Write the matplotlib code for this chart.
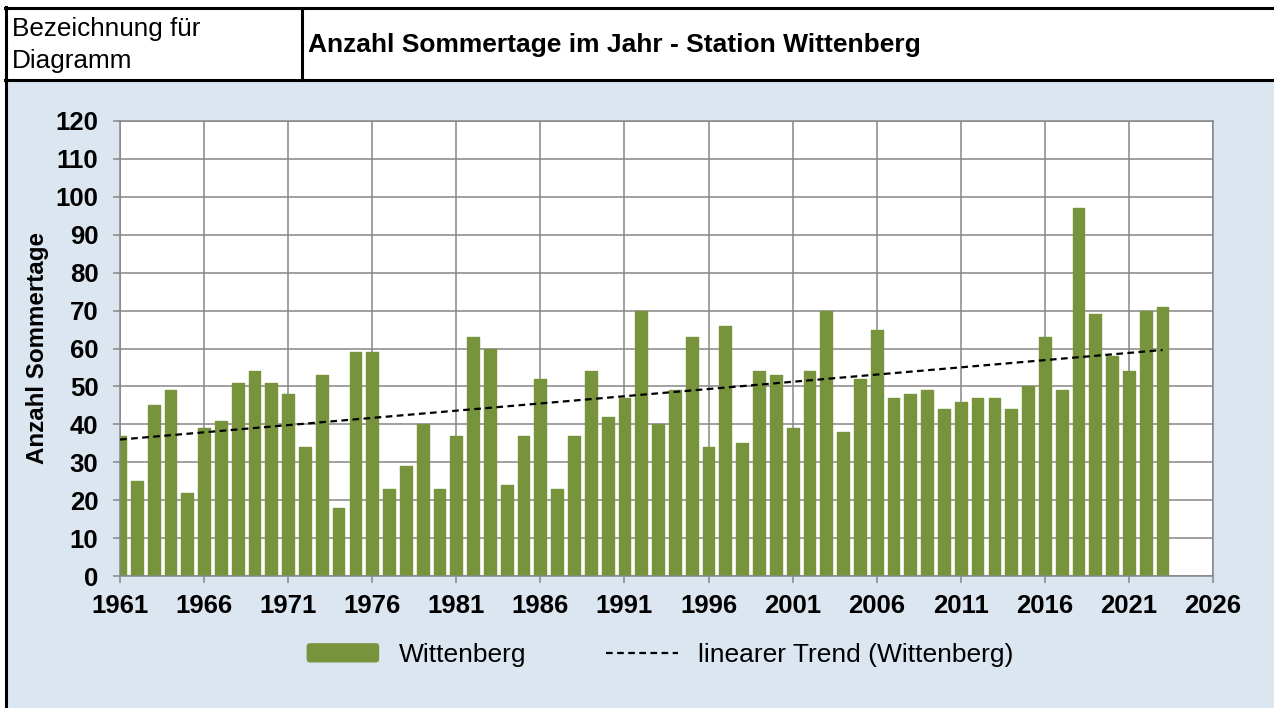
import numpy as np
import matplotlib
matplotlib.use("Agg")
import matplotlib.pyplot as plt
from matplotlib.patches import Rectangle, FancyBboxPatch
from matplotlib.lines import Line2D
from matplotlib.legend_handler import HandlerPatch

plt.rcParams['font.family'] = ['Liberation Sans', 'DejaVu Sans']

years = list(range(1961, 2024))
values = [37, 25, 45, 49, 22, 39, 41, 51, 54, 51,
          48, 34, 53, 18, 59, 59, 23, 29, 40, 23,
          37, 63, 60, 24, 37, 52, 23, 37, 54, 42,
          47, 70, 40, 49, 63, 34, 66, 35, 54, 53,
          39, 54, 70, 38, 52, 65, 47, 48, 49, 44,
          46, 47, 47, 44, 50, 63, 49, 97, 69, 58,
          54, 70, 71]
x_ticks = list(range(1961, 2027, 5))
y_ticks = list(range(0, 121, 10))

header_left = "Bezeichnung für"
header_left2 = "Diagramm"
title = "Anzahl Sommertage im Jahr - Station Wittenberg"
ylabel = "Anzahl Sommertage"
series_name = "Wittenberg"
trend_name = "linearer Trend (Wittenberg)"

W, H = 1274, 708
def fx(x): return x / W
def fy(y): return 1 - y / H

fig = plt.figure(figsize=(W / 100, H / 100), dpi=100)
fig.patch.set_facecolor('white')

# blue background
fig.add_artist(Rectangle((fx(7), 0), 1 - fx(7), fy(81), transform=fig.transFigure,
                         facecolor='#DCE6F1', edgecolor='none', zorder=0))
# header lines
lw = 2.2
for (x0, y0, x1, y1) in [(5, 8, 1274, 8), (5, 80, 1274, 80), (6, 7, 6, 708), (302, 8, 302, 80)]:
    fig.add_artist(Line2D([fx(x0), fx(x1)], [fy(y0), fy(y1)], transform=fig.transFigure,
                          color='black', lw=lw, zorder=5))

fig.text(fx(12), fy(29), header_left, fontsize=18.8, va='center', ha='left')
fig.text(fx(12), fy(61), header_left2, fontsize=18.8, va='center', ha='left')
fig.text(fx(308), fy(45), title, fontsize=19, fontweight='bold', va='center', ha='left')

ax = fig.add_axes([fx(120), fy(576), fx(1213) - fx(120), fy(121) - fy(576)])
ax.set_facecolor('white')
ax.set_axisbelow(True)

green = '#77933C'
ax.bar(years, values, width=0.7, color=green, edgecolor=green, linewidth=1.0,
       joinstyle='round', zorder=2)

coef = np.polyfit(years, values, 1)
yr = np.array([years[0], years[-1]], dtype=float)
ax.plot(yr, np.polyval(coef, yr), color='black', lw=1.6, dashes=(3, 2), zorder=3)

ax.set_xlim(1961, 2026)
ax.set_ylim(0, 120)
ax.set_xticks(x_ticks)
ax.set_yticks(y_ticks)
gc = '#868686'
ax.grid(True, color=gc, lw=1.1)
for s in ax.spines.values():
    s.set_color(gc)
    s.set_linewidth(1.1)
ax.tick_params(axis='both', colors=gc, length=5, width=1.1, labelcolor='black', labelsize=18.5)
ax.tick_params(axis='y', pad=10.5)
ax.tick_params(axis='x', pad=8)
for lab in ax.get_xticklabels() + ax.get_yticklabels():
    lab.set_fontweight('bold')
ax.set_ylabel(ylabel, fontsize=17.4, fontweight='bold', labelpad=5)


class RoundPatchHandler(HandlerPatch):
    def create_artists(self, legend, orig_handle, xdescent, ydescent, width, height, fontsize, trans):
        p = FancyBboxPatch((-xdescent + 1.5, -ydescent + 1.5), width - 3, height - 3,
                           boxstyle='round,pad=1.5,rounding_size=2.5',
                           facecolor=green, edgecolor=green, lw=0, transform=trans)
        return [p]


bar_handle = Rectangle((0, 0), 1, 1, facecolor=green, label=series_name)
handles = [bar_handle,
           Line2D([0], [0], color='black', lw=1.6, dashes=(3, 2), label=trend_name)]
fig.legend(handles=handles, loc='center', bbox_to_anchor=(fx(660), fy(655)), ncol=2,
           frameon=False, fontsize=19, handlelength=2.75, handleheight=0.75,
           handletextpad=0.75, columnspacing=3.0,
           handler_map={Rectangle: RoundPatchHandler()})

fig.savefig('out.png', dpi=100)
